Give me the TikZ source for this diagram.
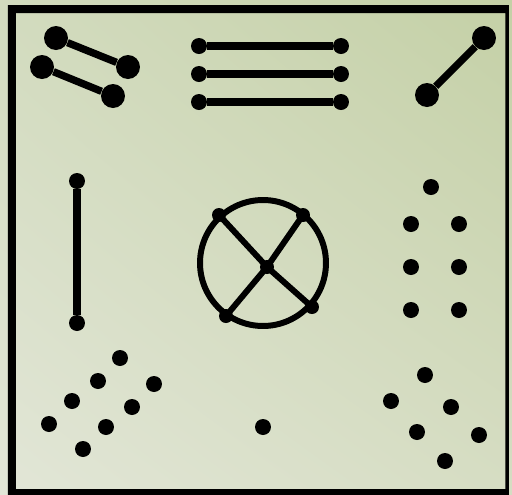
\documentclass[tikz,border=0pt]{standalone}
\usepackage{xcolor}
\usetikzlibrary{shadings}
\definecolor{bg-ul}{HTML}{D2DBBE}
\definecolor{bg-ur}{HTML}{C4D0A6}
\definecolor{bg-ll}{HTML}{E2E6D7}
\definecolor{bg-lr}{HTML}{D6DDC3}

\begin{document}
\begin{tikzpicture}[x=0.02cm, y=-0.02cm,
    bigdot/.style={circle, fill=black, inner sep=0pt, minimum size=0.48cm},
    dot/.style={circle, fill=black, inner sep=0pt, minimum size=0.32cm},
    smalldot/.style={circle, fill=black, inner sep=0pt, minimum size=0.28cm},
    bar/.style={line width=4.2pt},
    thinbar/.style={line width=3.4pt}]
    \useasboundingbox (0,0) rectangle (512,495);
    \shade[upper left=bg-ul, upper right=bg-ur, lower left=bg-ll, lower right=bg-lr]
      (0,0) rectangle (512,495);
    \fill[black, even odd rule] (8,5) rectangle (509,495) (16,13) rectangle (505.5,489);

    % top row
    \node[bigdot] (tla) at (56,38) {};
    \node[bigdot] (tlb) at (128,67) {};
    \node[bigdot] (tlc) at (42,67) {};
    \node[bigdot] (tld) at (113,96) {};
    \draw[bar] (tla) -- (tlb);
    \draw[bar] (tlc) -- (tld);
    \foreach \i/\y in {1/46, 2/74, 3/102} {
      \node[dot] (hl\i) at (199,\y) {};
      \node[dot] (hr\i) at (341,\y) {};
      \draw[bar] (hl\i) -- (hr\i);
    }
    \node[bigdot] (tra) at (427,95) {};
    \node[bigdot] (trb) at (484,38) {};
    \draw[bar] (tra) -- (trb);

    % middle row
    \node[dot] (vtop) at (77,181) {};
    \node[dot] (vbot) at (77,323) {};
    \draw[bar] (vtop) -- (vbot);
    \node[circle, draw, line width=3.4pt, inner sep=0pt, minimum size=2.52cm] (ring) at (263,263) {};
    \node[smalldot] (hub) at (267,267) {};
    \node[smalldot] (rtl) at (219,215) {};
    \node[smalldot] (rtr) at (303,215) {};
    \node[smalldot] (rbl) at (226,316) {};
    \node[smalldot] (rbr) at (312,307) {};
    \foreach \n in {rtl, rtr, rbl, rbr}
      \draw[thinbar] (hub.center) -- (\n.center);
    \node[dot] (m0) at (431,187) {};
    \foreach \i/\y in {1/224, 2/267, 3/310} {
      \node[dot] (ml\i) at (411,\y) {};
      \node[dot] (mr\i) at (459,\y) {};
    }

    % bottom row
    \foreach \i/\x/\y in {1/120/358, 2/98/381, 3/154/384, 4/72/401,
                          5/132/407, 6/49/424, 7/106/427, 8/83/449}
      \node[dot] (bl\i) at (\x,\y) {};
    \node[dot] (lone) at (263,427) {};
    \foreach \i/\x/\y in {1/425/375, 2/391/401, 3/451/407,
                          4/417/432, 5/479/435, 6/445/461}
      \node[dot] (br\i) at (\x,\y) {};
\end{tikzpicture}
\end{document}
